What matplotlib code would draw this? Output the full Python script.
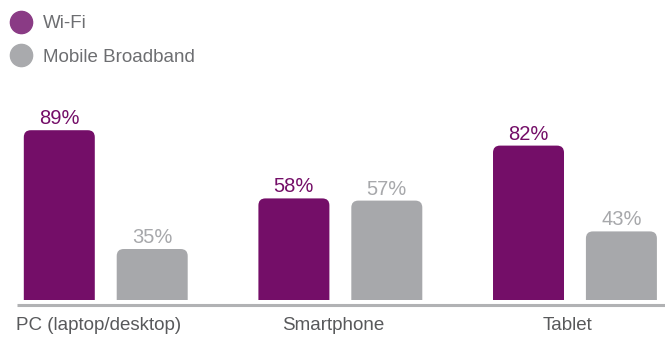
import numpy as np
import matplotlib
matplotlib.use("Agg")
import matplotlib.pyplot as plt
from matplotlib.patches import FancyBboxPatch
from matplotlib.lines import Line2D
import matplotlib.transforms as mtransforms

plt.rcParams['font.family'] = ['Liberation Sans', 'DejaVu Sans']

# data
categories = ['PC (laptop/desktop)', 'Smartphone', 'Tablet']
series_names = ['Wi-Fi', 'Mobile Broadband']
wifi = [89, 58, 82]
mobile = [35, 57, 43]

purple = '#740e68'
grey = '#a7a8ab'
legend_purple = '#8a3b85'
legend_grey = '#a9aaad'
label_grey = '#58595b'

W, H = 665, 338
fig = plt.figure(figsize=(W / 100, H / 100), dpi=100)
ax = fig.add_axes([17 / W, 38 / H, (W - 17) / W, 200 / H])

x = np.arange(len(categories))
off = 0.198
bw = 0.3026
xlim = (-0.3783, 2.3838)
ylim = (11.82, 102.73)
ax.set_xlim(xlim)
ax.set_ylim(ylim)

# aspect for round corners (data y per px / data x per px)
xpp = (xlim[1] - xlim[0]) / (W - 17)
ypp = (ylim[1] - ylim[0]) / 200
aspect = ypp / xpp
r = 7 * xpp

b1 = ax.bar(x - off, wifi, bw, color=purple)
b2 = ax.bar(x + off, mobile, bw, color=grey)

for bars, col in [(b1, purple), (b2, grey)]:
    for rect in bars:
        bx, by = rect.get_xy()
        p = FancyBboxPatch((bx, by), rect.get_width(), rect.get_height(),
                           boxstyle="round,pad=0,rounding_size=%f" % r,
                           mutation_aspect=aspect, facecolor=col,
                           edgecolor='none', clip_on=True)
        rect.remove()
        ax.add_patch(p)

# value labels
for i in range(len(categories)):
    ax.annotate('%d%%' % wifi[i], (x[i] - off, wifi[i]), xytext=(0, 6),
                textcoords='offset pixels', ha='center', va='baseline',
                fontsize=14.5, color=purple)
    ax.annotate('%d%%' % mobile[i], (x[i] + off, mobile[i]), xytext=(0, 6),
                textcoords='offset pixels', ha='center', va='baseline',
                fontsize=14.5, color=grey)

# baseline
ax.plot([0, 1], [-0.025, -0.025], transform=ax.transAxes, color='#b1b2b4',
        lw=2.2, clip_on=False, solid_capstyle='butt')

ax.set_xticks(x)
ax.set_xticklabels(categories, fontsize=13.5, color=label_grey)
ax.tick_params(axis='x', length=0, pad=12)
shift = mtransforms.ScaledTranslation(-7 / 100, 0, fig.dpi_scale_trans)
for t in ax.get_xticklabels():
    t.set_transform(t.get_transform() + shift)
ax.set_yticks([])
for s in ax.spines.values():
    s.set_visible(False)

handles = [Line2D([], [], marker='o', ls='', ms=16, color=legend_purple),
           Line2D([], [], marker='o', ls='', ms=16, color=legend_grey)]
leg = fig.legend(handles, series_names, loc='upper left',
                 bbox_to_anchor=(10 / W, 1 - 15 / H), bbox_transform=fig.transFigure,
                 frameon=False, fontsize=13.5, handlelength=1.2, handletextpad=0.56,
                 labelspacing=0.88, borderpad=0, borderaxespad=0)
for t in leg.get_texts():
    t.set_color('#6d6e71')

fig.savefig('out.png', dpi=100)
